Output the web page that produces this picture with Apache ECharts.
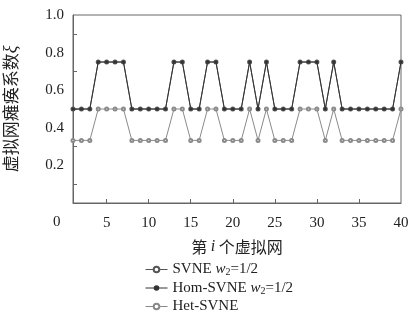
<!DOCTYPE html>
<html>
<head>
<meta charset="utf-8">
<script src="https://cdn.jsdelivr.net/npm/echarts@6/dist/echarts.min.js"></script>
<style>
  html, body { margin: 0; padding: 0; background: #fff; }
  #main { width: 410px; height: 327px; }
</style>
</head>
<body>
<div id="main"></div>
<script>
// 第 i 个虚拟网
const xData = [1, 2, 3, 4, 5, 6, 7, 8, 9, 10, 11, 12, 13, 14, 15, 16, 17, 18, 19, 20,
  21, 22, 23, 24, 25, 26, 27, 28, 29, 30, 31, 32, 33, 34, 35, 36, 37, 38, 39, 40];
const svne = [0.5, 0.5, 0.5, 0.75, 0.75, 0.75, 0.75, 0.5, 0.5, 0.5, 0.5, 0.5, 0.75, 0.75, 0.5, 0.5, 0.75, 0.75, 0.5, 0.5,
  0.5, 0.75, 0.5, 0.75, 0.5, 0.5, 0.5, 0.75, 0.75, 0.75, 0.5, 0.75, 0.5, 0.5, 0.5, 0.5, 0.5, 0.5, 0.5, 0.75];
const homSvne = [0.5, 0.5, 0.5, 0.75, 0.75, 0.75, 0.75, 0.5, 0.5, 0.5, 0.5, 0.5, 0.75, 0.75, 0.5, 0.5, 0.75, 0.75, 0.5, 0.5,
  0.5, 0.75, 0.5, 0.75, 0.5, 0.5, 0.5, 0.75, 0.75, 0.75, 0.5, 0.75, 0.5, 0.5, 0.5, 0.5, 0.5, 0.5, 0.5, 0.75];
const hetSvne = [0.333, 0.333, 0.333, 0.5, 0.5, 0.5, 0.5, 0.333, 0.333, 0.333, 0.333, 0.333, 0.5, 0.5, 0.333, 0.333, 0.5, 0.5, 0.333, 0.333,
  0.333, 0.5, 0.333, 0.5, 0.333, 0.333, 0.333, 0.5, 0.5, 0.5, 0.333, 0.5, 0.333, 0.333, 0.333, 0.333, 0.333, 0.333, 0.333, 0.5];
const xTicks = [5, 10, 15, 20, 25, 30, 35];
const xLabels = [5, 10, 15, 20, 25, 30, 35, 40];
const yTicks = [0.1, 0.3, 0.5, 0.7, 0.9];
const yLabels = [0.2, 0.4, 0.6, 0.8, 1.0];

const serif = '"Liberation Serif", "DejaVu Serif", serif';
const cjk = '"Noto Sans CJK SC", sans-serif';

const pair = (xs, ys) => xs.map((x, i) => [x, ys[i]]);

var myChart = echarts.init(document.getElementById('main'));
var option = {
  animation: false,
  textStyle: { fontFamily: serif, color: '#222' },
  grid: {
    left: 73, right: 9, top: 15, bottom: 124,
    outerBoundsMode: 'none',
    containLabel: false,
    show: true, borderColor: '#666', borderWidth: 1
  },
  legend: {
    orient: 'vertical',
    left: 140,
    top: 257,
    height: 90,
    itemWidth: 22,
    itemHeight: 7,
    itemGap: 3,
    lineStyle: { width: 1 },
    itemStyle: { borderWidth: 1 },
    textStyle: {
      fontFamily: serif, fontSize: 15, color: '#222',
      rich: {
        n: { fontFamily: serif, fontSize: 15, color: '#222' },
        i: { fontFamily: serif, fontSize: 15, fontStyle: 'italic', color: '#222' },
        s: { fontFamily: serif, fontSize: 10, color: '#222', padding: [6, 0, 0, 0] }
      }
    },
    formatter: function (name) {
      if (name === 'SVNE') return '{n|SVNE }{i|w}{s|2}{n|=1/2}';
      if (name === 'Hom-SVNE') return '{n|Hom-SVNE }{i|w}{s|2}{n|=1/2}';
      return '{n|' + name + '}';
    }
  },
  xAxis: {
    type: 'value',
    min: 1,
    max: 40,
    name: '第 {i|i} 个虚拟网',
    nameLocation: 'middle',
    nameGap: 36,
    nameTextStyle: {
      fontFamily: cjk, fontSize: 16, color: '#222',
      rich: { i: { fontFamily: serif, fontStyle: 'italic', fontSize: 16, color: '#222' } }
    },
    axisLine: { show: true, lineStyle: { color: '#666' } },
    axisTick: { show: true, inside: true, length: 4, customValues: xTicks, lineStyle: { color: '#666' } },
    axisLabel: { customValues: xLabels, fontFamily: serif, fontSize: 15, color: '#222', margin: 13 },
    splitLine: { show: false }
  },
  yAxis: {
    type: 'value',
    min: 0,
    max: 1,
    name: '虚拟网瘫痪系数{i|ξ}',
    nameLocation: 'middle',
    nameGap: 53,
    nameTextStyle: {
      fontFamily: cjk, fontSize: 17, color: '#222',
      rich: { i: { fontFamily: serif, fontStyle: 'italic', fontSize: 18, color: '#222' } }
    },
    axisLine: { show: true, lineStyle: { color: '#666' } },
    axisTick: { show: true, inside: true, length: 4, customValues: yTicks, lineStyle: { color: '#666' } },
    axisLabel: {
      customValues: yLabels, fontFamily: serif, fontSize: 15, color: '#222', margin: 9,
      formatter: function (v) { return v.toFixed(1); }
    },
    splitLine: { show: false }
  },
  graphic: [{
    type: 'text',
    left: 53,
    top: 215,
    style: { text: '0', font: '15px ' + serif, fill: '#222' }
  }],
  series: [
    {
      name: 'SVNE', type: 'line', data: pair(xData, svne),
      symbol: 'emptyCircle', symbolSize: 3,
      lineStyle: { color: '#555', width: 1 },
      itemStyle: { color: '#555', borderWidth: 1 },
      z: 2
    },
    {
      name: 'Hom-SVNE', type: 'line', data: pair(xData, homSvne),
      symbol: 'circle', symbolSize: 3,
      lineStyle: { color: '#333', width: 1 },
      itemStyle: { color: '#333' },
      z: 3
    },
    {
      name: 'Het-SVNE', type: 'line', data: pair(xData, hetSvne),
      symbol: 'emptyCircle', symbolSize: 3,
      lineStyle: { color: '#8a8a8a', width: 1 },
      itemStyle: { color: '#8a8a8a', borderWidth: 1 },
      z: 1
    }
  ]
};
myChart.setOption(option);
</script>
</body>
</html>
